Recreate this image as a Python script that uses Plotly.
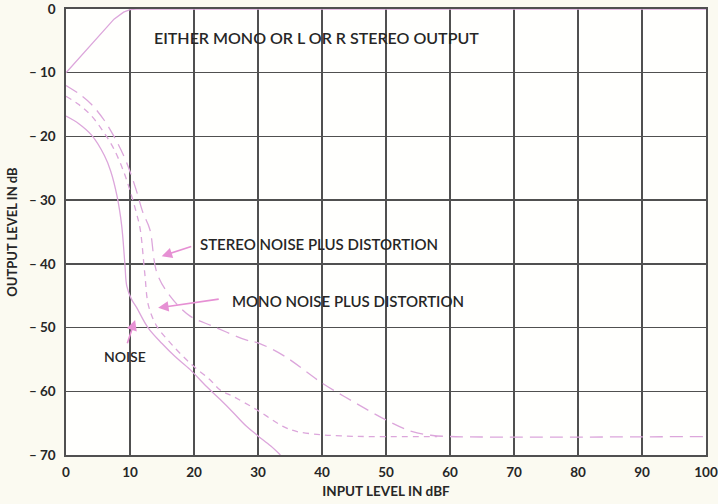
import plotly.graph_objects as go

# ---- data ----
out_x = [0, 2, 4, 6, 7.5, 9, 10, 11, 12, 100]
out_y = [-10, -7.8, -5.5, -3.3, -1.6, -0.5, -0.1, 0, 0, 0]

noise_x = [0, 2, 4, 6, 7, 8, 8.7, 9.2, 9.5, 10.2, 11, 12.8, 15, 17, 19.4, 22, 24.1, 26, 28.2, 30, 32, 33.5]
noise_y = [-16.8, -18, -19.8, -23, -25.5, -29.5, -34, -40, -43.5, -45.5, -46.8, -50, -52.5, -54.5, -56.6, -59.3, -61.3, -63.2, -65.5, -67, -68.6, -70]

mono_x = [0, 2, 4, 6, 7.5, 9, 10, 11, 11.6, 12.3, 12.9, 14.2, 16.3, 19.4, 22.5, 24.1, 26.1, 29.8, 33.9, 36, 39.7, 43, 47, 58]
mono_y = [-13.7, -15, -16.8, -19.5, -22, -25.5, -28.5, -32, -34.6, -41.4, -46.6, -49.8, -52.4, -55.6, -58.2, -59.8, -60.8, -62.9, -65.5, -66.3, -66.8, -67.0, -67.1, -67.1]

stereo_x = [0, 2, 4, 6, 7.5, 9, 10, 11, 12, 13.1, 14.2, 16.3, 19.4, 23, 28, 30, 34, 40, 45, 50, 54, 57, 60, 100]
stereo_y = [-12, -13.3, -15, -17.5, -20, -23, -25.5, -28.5, -31.9, -34.6, -41.4, -45.1, -48.2, -49.8, -51.9, -52.4, -54.4, -58.7, -61.7, -64.5, -66.3, -66.9, -67.1, -67.1]

x_ticks = [0, 10, 20, 30, 40, 50, 60, 70, 80, 90, 100]
x_ticktext = ["0", "10", "20", "30", "40", "50", "60", "70", "80", "90", "100"]
y_ticks = [0, -10, -20, -30, -40, -50, -60, -70]
y_ticktext = ["0", "\u2013 10", "\u2013 20", "\u2013 30", "\u2013 40", "\u2013 50", "\u2013 60", "\u2013 70"]

labels = [  # text, x, y, size
    ("EITHER MONO OR L OR R STEREO OUTPUT", 39.1, -4.5, 16),
    ("STEREO NOISE PLUS DISTORTION", 39.5, -36.9, 15),
    ("MONO NOISE PLUS DISTORTION", 44.1, -45.9, 15),
    ("NOISE", 9.2, -54.6, 14),
]
arrows = [  # tip x, tip y, tail x, tail y
    (14.95, -38.8, 19.8, -37.2),
    (14.4, -46.9, 24.1, -45.5),
    (10.8, -48.8, 9.5, -52.7),
]

LINE = "#dca6db"
ARROW = "#e690d3"
TXT = "#262626"
GRID = "#505050"
FONT = "Lato"

fig = go.Figure()
fig.add_trace(go.Scatter(x=out_x, y=out_y, mode="lines", line=dict(color=LINE, width=1.3), cliponaxis=False))
fig.add_trace(go.Scatter(x=noise_x, y=noise_y, mode="lines", line=dict(color=LINE, width=1.3), line_shape="spline"))
fig.add_trace(go.Scatter(x=mono_x, y=mono_y, mode="lines", line=dict(color=LINE, width=1.3, dash="6px,5px"), line_shape="spline"))
fig.add_trace(go.Scatter(x=stereo_x, y=stereo_y, mode="lines", line=dict(color=LINE, width=1.3, dash="13px,7px"), line_shape="spline"))

for t, x, y, s in labels:
    fig.add_annotation(x=x, y=y, xref="x", yref="y", text=t, showarrow=False,
                       font=dict(family=FONT, size=s, color=TXT, weight=600))
for tx, ty, ax, ay in arrows:
    fig.add_annotation(x=tx, y=ty, ax=ax, ay=ay, xref="x", yref="y", axref="x", ayref="y",
                       text="", showarrow=True, arrowhead=2, arrowsize=1.3, arrowwidth=1.6,
                       arrowcolor=ARROW)

fig.update_layout(
    width=718, height=504,
    margin=dict(l=66, r=12, t=9, b=49, autoexpand=False),
    paper_bgcolor="#fbfaf1",
    plot_bgcolor="#fffffd",
    showlegend=False,
    hovermode=False,
    font=dict(family=FONT, color=TXT),
)
fig.update_xaxes(range=[0, 100], tickvals=x_ticks, ticktext=x_ticktext, automargin=False,
                 showgrid=True, gridcolor=GRID, gridwidth=1.3, layer="below traces",
                 showline=True, linecolor=GRID, linewidth=1.6, mirror=True,
                 zeroline=False, ticks="", ticklabelstandoff=4, ticklabeloverflow="allow",
                 tickfont=dict(family=FONT, size=13.5, color=TXT, weight=700),
                 title=dict(text="INPUT LEVEL IN dBF", font=dict(family=FONT, size=13.5, color=TXT, weight=700), standoff=8))
fig.update_yaxes(range=[-70, 0], tickvals=y_ticks, ticktext=y_ticktext, automargin=False,
                 showgrid=True, gridcolor=GRID, gridwidth=1.3, layer="below traces",
                 showline=True, linecolor=GRID, linewidth=1.6, mirror=True,
                 zeroline=False, ticks="", ticklabelstandoff=6, ticklabeloverflow="allow",
                 tickfont=dict(family=FONT, size=13.5, color=TXT, weight=700),
                 title=dict(text="OUTPUT LEVEL IN dB", font=dict(family=FONT, size=13, color=TXT, weight=700), standoff=8))

fig.write_html("out.html", config={"displayModeBar": False, "staticPlot": True},
               post_script="document.body.style.margin='0';document.body.style.overflow='hidden';")
